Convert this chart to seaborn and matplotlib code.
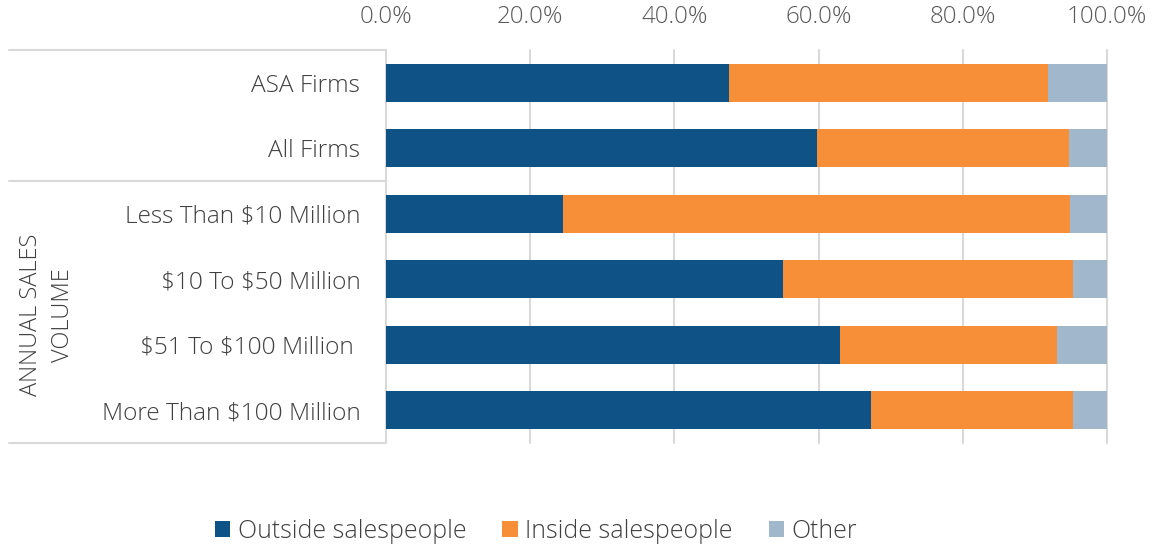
import matplotlib
matplotlib.use("Agg")
import matplotlib.pyplot as plt
import seaborn as sns
import pandas as pd
from matplotlib.patches import Patch

# Sales-force composition by firm type / annual sales volume (% of salespeople)
categories = ["ASA Firms", "All Firms", "Less Than $10 Million", "$10 To $50 Million",
              "$51 To $100 Million ", "More Than $100 Million"]
outside = [47.6, 59.8, 24.5, 55.1, 63.0, 67.3]
inside = [44.2, 34.9, 70.4, 40.2, 30.1, 28.0]
other = [8.2, 5.3, 5.1, 4.7, 6.9, 4.7]
series_names = ["Outside salespeople", "Inside salespeople", "Other"]
tick_values = [0, 20, 40, 60, 80, 100]
group_label = "ANNUAL SALES\nVOLUME"

colors = {"Outside salespeople": "#0F5286",
          "Inside salespeople": "#F68F37",
          "Other": "#A1B7CC"}

sns.set_theme(style="white")
plt.rcParams["font.family"] = ["Open Sans", "DejaVu Sans"]
plt.rcParams["font.weight"] = "light"
plt.rcParams["text.parse_math"] = False

df = pd.DataFrame({"category": categories, "Outside salespeople": outside,
                   "Inside salespeople": inside, "Other": other})
# cumulative right edges for stacking
df["cum_outside"] = df["Outside salespeople"]
df["cum_inside"] = df["cum_outside"] + df["Inside salespeople"]
df["cum_other"] = df["cum_inside"] + df["Other"]

W, H = 1155, 544
fig = plt.figure(figsize=(W / 100, H / 100), dpi=100)
ax = fig.add_axes([386 / W, 1 - 443 / H, (1107 - 386) / W, (443 - 50) / H])

bar_w = 0.58
for col, name in [("cum_other", "Other"), ("cum_inside", "Inside salespeople"),
                  ("cum_outside", "Outside salespeople")]:
    sns.barplot(data=df, x=col, y="category", orient="h", color=colors[name],
                width=bar_w, saturation=1, ax=ax, zorder=3, linewidth=0)

ax.set_xlim(0, 100)
ax.set_ylim(5.5, -0.5)
ax.set_xlabel("")
ax.set_ylabel("")

ax.xaxis.tick_top()
ax.set_xticks(tick_values)
ax.set_xticklabels([f"{v:.1f}%" for v in tick_values])
ax.tick_params(axis="x", length=0, pad=15, labelsize=17.4, labelcolor="#595959")
ax.tick_params(axis="y", length=0, pad=18.5, labelsize=17.6, labelcolor="#404040")

for s in ["top", "right", "bottom"]:
    ax.spines[s].set_visible(False)
ax.spines["left"].set_color("#D9D9D9")
ax.spines["left"].set_linewidth(1.5)

for v in tick_values[1:]:
    ax.axvline(v, color="#D9D9D9", linewidth=1.5, zorder=1, clip_on=False)

# left-hand table rules separating the row groups
ytr = ax.get_yaxis_transform()
x0 = (9 - 386) / (1107 - 386)
for yv in [-0.5, 1.5, 5.5]:
    ax.plot([x0, 0], [yv, yv], transform=ytr, color="#D9D9D9", linewidth=1.5,
            clip_on=False, zorder=2)

fig.text(47 / W, 1 - 315 / H, group_label, rotation=90, ha="center", va="center",
         fontsize=17, color="#404040", linespacing=1.4, multialignment="center")

handles = [Patch(facecolor=colors[n], edgecolor="none", label=n) for n in series_names]
fig.legend(handles=handles, loc="center", bbox_to_anchor=(536 / W, 1 - 531 / H), ncol=3,
           frameon=False, fontsize=17.9, handlelength=0.62, handleheight=0.62,
           handletextpad=0.3, columnspacing=1.45, labelcolor="#404040",
           borderpad=0, borderaxespad=0)

fig.savefig("out.png", dpi=100)
